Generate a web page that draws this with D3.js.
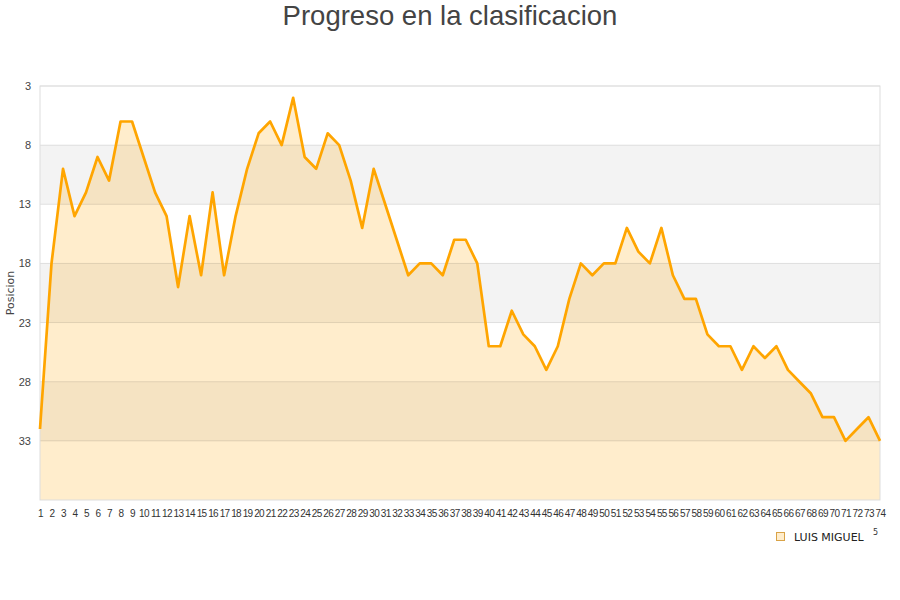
<!DOCTYPE html>
<html>
<head>
<meta charset="utf-8">
<script src="https://cdn.jsdelivr.net/npm/d3@7"></script>
<style>
  body { margin: 0; background: #fff; }
  svg { font-family: "DejaVu Sans", sans-serif; }
</style>
</head>
<body>
<svg id="chart" width="900" height="600"></svg>
<script>
// jornadas 1..74 y posicion en cada una
var jornadas = d3.range(1, 75);
var posiciones = [32, 18, 10, 14, 12, 9, 11, 6, 6, 9,
  12, 14, 20, 14, 19, 12, 19, 14, 10, 7,
  6, 8, 4, 9, 10, 7, 8, 11, 15, 10,
  13, 16, 19, 18, 18, 19, 16, 16, 18, 25,
  25, 22, 24, 25, 27, 25, 21, 18, 19, 18,
  18, 15, 17, 18, 15, 19, 21, 21, 24, 25,
  25, 27, 25, 26, 25, 27, 28, 29, 31, 31,
  33, 32, 31, 33];
var yTicks = [3, 8, 13, 18, 23, 28, 33];
var serie = "LUIS MIGUEL";

var svg = d3.select("#chart");
var mLeft = 40, mRight = 880, mTop = 86, mBottom = 500;

var x = d3.scalePoint().domain(jornadas).range([mLeft, mRight]);
var y = d3.scaleLinear().domain([3, 38]).range([mTop, mBottom]);

// bandas alternas
var bands = [8, 18, 28];
svg.selectAll("rect.band").data(bands).enter().append("rect")
  .attr("class", "band")
  .attr("x", mLeft).attr("width", mRight - mLeft)
  .attr("y", function(d) { return y(d); })
  .attr("height", function(d) { return y(d + 5) - y(d); })
  .attr("fill", "#f3f3f3");

// area + linea
var area = d3.area()
  .x(function(d, i) { return x(jornadas[i]); })
  .y0(y(38))
  .y1(function(d) { return y(d); });
var line = d3.line()
  .x(function(d, i) { return x(jornadas[i]); })
  .y(function(d) { return y(d); });

svg.append("path").datum(posiciones)
  .attr("d", area)
  .attr("fill", "#ffa500").attr("fill-opacity", 0.2);

// rejilla
svg.selectAll("line.grid").data(yTicks).enter().append("line")
  .attr("x1", mLeft).attr("x2", mRight)
  .attr("y1", function(d) { return y(d); })
  .attr("y2", function(d) { return y(d); })
  .attr("stroke", "#000").attr("stroke-opacity", 0.1);

svg.append("rect")
  .attr("x", mLeft).attr("y", mTop)
  .attr("width", mRight - mLeft).attr("height", mBottom - mTop)
  .attr("fill", "none").attr("stroke", "#ddd");

svg.append("path").datum(posiciones)
  .attr("d", line)
  .attr("fill", "none").attr("stroke", "#ffa500")
  .attr("stroke-width", 2.7).attr("stroke-linejoin", "round");

// eje y
var yAxis = svg.append("g")
  .attr("transform", "translate(" + mLeft + ",0)")
  .call(d3.axisLeft(y).tickValues(yTicks).tickSize(0).tickPadding(9));
yAxis.select(".domain").remove();
yAxis.selectAll("text").attr("fill", "#444").attr("font-size", 11);

// eje x
var xAxis = svg.append("g")
  .attr("transform", "translate(0," + mBottom + ")")
  .call(d3.axisBottom(x).tickSize(0).tickPadding(10));
xAxis.select(".domain").remove();
xAxis.selectAll("text").attr("fill", "#333").attr("font-size", 10)
  .attr("letter-spacing", -0.6);

svg.append("text")
  .attr("transform", "translate(14," + ((mTop + mBottom) / 2) + ") rotate(-90)")
  .attr("text-anchor", "middle")
  .attr("font-size", 11).attr("fill", "#444")
  .text("Posicion");

svg.append("text")
  .attr("x", 450).attr("y", 25)
  .attr("text-anchor", "middle")
  .attr("font-family", "Liberation Sans, Arial, sans-serif")
  .attr("font-size", 27.5).attr("fill", "#444")
  .text("Progreso en la clasificacion");

// leyenda
svg.append("rect")
  .attr("x", 776.5).attr("y", 532.5).attr("width", 8).attr("height", 8)
  .attr("fill", "#ffedcc").attr("stroke", "#d9a347");
svg.append("text")
  .attr("x", 794).attr("y", 541)
  .attr("font-size", 11).attr("fill", "#222")
  .text(serie);
svg.append("text")
  .attr("x", 873).attr("y", 535)
  .attr("font-size", 8).attr("fill", "#333")
  .text("5");
</script>
</body>
</html>
